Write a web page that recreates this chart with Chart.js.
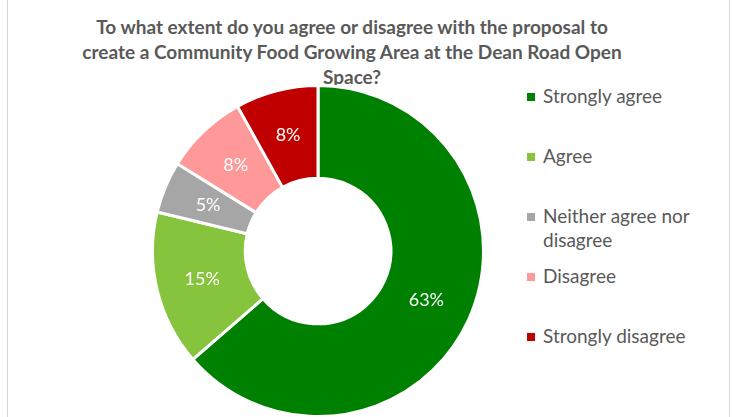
<!DOCTYPE html>
<html lang="en">
<head>
  <meta charset="UTF-8" />
  <title>Community Food Growing Area</title>
  <script src="https://cdn.jsdelivr.net/npm/chart.js"></script>
  <style>
    body {
      margin: 0;
      background: #fff;
      font-family: Lato, "Noto Sans", sans-serif;
    }
    #wrap {
      position: relative;
      width: 732px;
      height: 417px;
      overflow: hidden;
    }
    #frame {
      position: absolute;
      left: 7px;
      top: -2px;
      width: 721px;
      height: 425px;
      border: 1px solid #d9d9d9;
    }
    #title {
      position: absolute;
      left: 52px;
      top: 14px;
      width: 600px;
      text-align: center;
      color: #595959;
      font-weight: bold;
      font-size: 19px;
      line-height: 25px;
    }
    #chartBox {
      position: absolute;
      left: 148px;
      top: 81px;
      width: 340px;
      height: 340px;
    }
    #legend {
      position: absolute;
      left: 527px;
      top: 84px;
      list-style: none;
      margin: 0;
      padding: 0;
      color: #595959;
      font-size: 19px;
      line-height: 24px;
    }
    #legend li {
      position: relative;
      padding-left: 16px;
      width: 190px;
    }
    #legend span.box {
      position: absolute;
      left: 0;
      top: 9px;
      width: 8px;
      height: 8px;
    }
  </style>
</head>
<body>
  <div id="wrap">
    <div id="frame"></div>
    <div id="title">To what extent do you agree or disagree with the proposal to<br>create a Community Food Growing Area at the Dean Road Open<br>Space?</div>
    <div id="chartBox"><canvas id="foodChart" width="340" height="340"></canvas></div>
    <ul id="legend"></ul>
  </div>

  <script>
    const labels = ['Strongly agree', 'Agree', 'Neither agree nor disagree', 'Disagree', 'Strongly disagree'];
    const percents = [63, 15, 5, 8, 8];
    const colours = ['#008000', '#85C43C', '#A6A6A6', '#FF9999', '#C00000'];
    // gap above each legend entry
    const legendGaps = [0, 36, 36, 12, 36];

    // draws the % text inside each slice
    const sliceLabels = {
      id: 'sliceLabels',
      afterDatasetsDraw(chart) {
        const c = chart.ctx;
        const meta = chart.getDatasetMeta(0);
        c.save();
        c.fillStyle = '#fff';
        c.font = '18px Lato, "Noto Sans", sans-serif';
        c.textAlign = 'center';
        c.textBaseline = 'middle';
        meta.data.forEach((arc, i) => {
          const p = arc.tooltipPosition();
          c.fillText(percents[i] + '%', p.x, p.y);
        });
        c.restore();
      }
    };

    const ctx = document.getElementById('foodChart').getContext('2d');
    const foodChart = new Chart(ctx, {
      type: 'doughnut',
      data: {
        labels: labels,
        datasets: [{
          data: percents,
          backgroundColor: colours,
          borderColor: '#fff',
          borderWidth: 3
        }]
      },
      options: {
        responsive: false,
        animation: false,
        cutout: '44%',
        layout: { padding: 3 },
        plugins: {
          legend: { display: false },
          tooltip: { enabled: false }
        }
      },
      plugins: [sliceLabels]
    });

    const legendEl = document.getElementById('legend');
    labels.forEach((lab, i) => {
      const li = document.createElement('li');
      li.style.marginTop = legendGaps[i] + 'px';
      li.innerHTML = '<span class="box" style="background:' + colours[i] + '"></span>' + lab;
      legendEl.appendChild(li);
    });
  </script>
</body>
</html>
